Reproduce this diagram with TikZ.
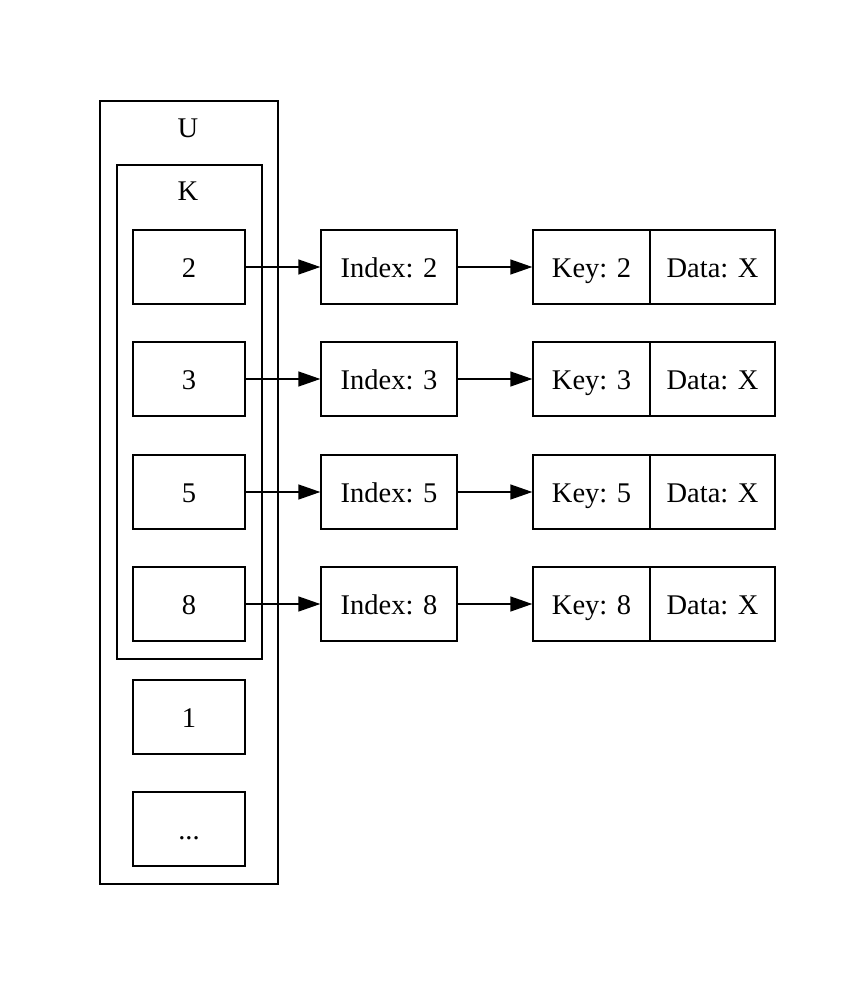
\documentclass[tikz,border=0pt]{standalone}
\usepackage{fontspec}
\setmainfont{Liberation Serif}
\usetikzlibrary{arrows.meta}
\begin{document}
\begin{tikzpicture}[x=1pt,y=-1pt,
  box/.style={draw,line width=1.4pt,rectangle,inner sep=0pt,minimum height=74pt},
  cell/.style={box,minimum width=112pt},
  idx/.style={box,minimum width=136pt},
  keyc/.style={box,minimum width=117pt},
  datc/.style={box,minimum width=125pt},
  frame/.style={draw,line width=1.4pt,rectangle,inner sep=0pt},
  lbl/.style={inner sep=0pt},
  conn/.style={line width=1.4pt,-{Triangle[length=22pt,width=15pt]}},
  every node/.style={font=\fontsize{28.5}{32}\selectfont,text height=20pt,text depth=0pt}]
\useasboundingbox (0,0) rectangle (859,984);
\node[frame,minimum width=178pt,minimum height=783pt] (U) at (189,492.5) {};
\node[lbl] (Ul) at (188,128) {U};
\node[frame,minimum width=145pt,minimum height=494pt] (K) at (189.5,412) {};
\node[lbl] (Kl) at (188,191) {K};
\foreach \n/\y in {2/267,3/379,5/492,8/604}{
  \node[cell] (c\n) at (189,\y) {\n};
  \node[idx] (i\n) at (389,\y) {Index: \n};
  \node[keyc] (k\n) at (591.5,\y) {Key: \n};
  \node[datc] (d\n) at (712.5,\y) {Data: X};
  \draw[conn] (c\n.east) -- (i\n.west);
  \draw[conn] (i\n.east) -- (k\n.west);
}
\node[cell] (c1) at (189,717) {1};
\node[cell] (cdots) at (189,829) {...};
\end{tikzpicture}
\end{document}
